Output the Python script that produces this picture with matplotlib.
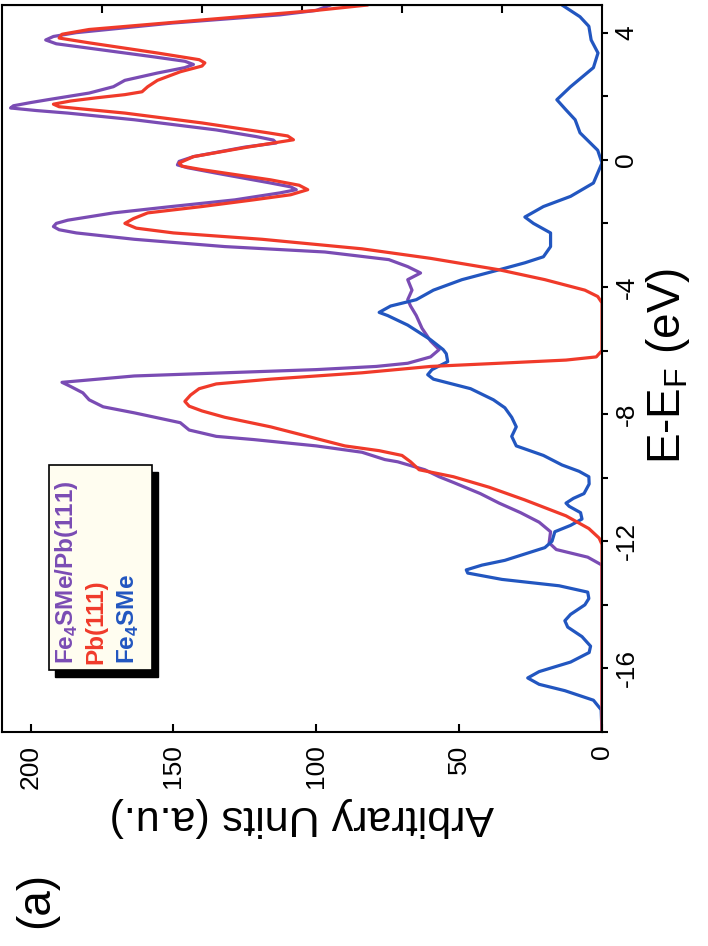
import matplotlib
matplotlib.use("Agg")
import matplotlib.pyplot as plt
from matplotlib.patches import Rectangle

plt.rcParams['font.family'] = ['Liberation Sans', 'DejaVu Sans']
plt.rcParams['mathtext.fontset'] = 'custom'
plt.rcParams['mathtext.rm'] = 'Liberation Sans'
plt.rcParams['mathtext.bf'] = 'Liberation Sans:bold'
plt.rcParams['axes.unicode_minus'] = False

# === Data (energy in eV, DOS in arbitrary units) ===
blue_e = [-18.0, -17.3, -17.0, -16.7, -16.5, -16.3, -16.1, -15.8, -15.5, -15.3, -15.0, -14.7,
          -14.5, -14.3, -14.0, -13.8, -13.6, -13.4, -13.2, -13.0, -12.9, -12.75, -12.6, -12.4,
          -12.2, -12.0, -11.7, -11.5, -11.3, -11.1, -10.9, -10.8, -10.65, -10.5, -10.2, -9.97,
          -9.8, -9.6, -9.3, -9.0, -8.7, -8.4, -8.1, -7.8, -7.55, -7.2, -6.9, -6.76, -6.6, -6.35,
          -6.1, -5.97, -5.66, -5.2, -4.9, -4.8, -4.6, -4.4, -4.1, -3.77, -3.46, -3.24, -3.05,
          -2.73, -2.3, -2.0, -1.8, -1.47, -1.15, -0.73, -0.1, 0.3, 0.85, 1.26, 1.57, 1.89, 2.3,
          2.9, 3.36, 3.77, 4.2, 4.5, 4.87]
blue_v = [0, 0.3, 3, 13, 22, 26, 22, 11, 4.5, 4, 7, 12,
          13, 11, 6, 4.6, 5, 15, 35, 47, 47.5, 42, 34, 27,
          20, 17.5, 16.5, 11, 7, 7.5, 11.5, 12.6, 10, 6.3, 4.5, 4.6,
          8, 14, 20.5, 30, 31.6, 30, 31.6, 34, 38, 46, 59, 61, 59.5, 54,
          54.5, 55.6, 60, 68, 75, 78, 74, 65, 59, 49, 36, 27, 20.5,
          18, 18, 24, 27, 20.5, 11, 3, 0, 1.5, 7.7, 9.4, 12.6, 15.8, 11,
          3, 1.4, 3.8, 4.6, 7.7, 14]

red_e = [-18.0, -12.1, -11.9, -11.6, -11.2, -10.7, -10.3, -9.97, -9.75, -9.5, -9.3, -9.15,
         -9.0, -8.7, -8.4, -8.1, -7.9, -7.75, -7.6, -7.4, -7.2, -7.05, -6.9, -6.7, -6.5,
         -6.4, -6.3, -6.2, -6.0, -4.5, -4.3, -4.1, -3.77, -3.46, -3.1, -2.8, -2.5, -2.3,
         -2.15, -2.0, -1.85, -1.67, -1.47, -1.26, -1.1, -0.94, -0.8, -0.63, -0.31, -0.2,
         -0.1, 0.1, 0.4, 0.63, 0.75, 0.85, 1.16, 1.47, 1.67, 1.75, 1.85, 1.95, 2.05, 2.14,
         2.3, 2.5, 2.77, 2.95, 3.05, 3.15, 3.36, 3.68, 3.83, 3.95, 4.1, 4.4, 4.7, 4.87]
red_v = [0, 0, 1, 4.6, 12.6, 27, 39.5, 52, 64, 67, 70, 78,
         90, 103, 116, 132, 140, 144.5, 146, 144, 141, 135, 116, 84, 60,
         36, 12.6, 2, 0, 0, 1.5, 6, 20, 36, 60, 84, 119, 150,
         163, 167, 164, 159, 140, 122, 109, 103, 106, 116, 140, 147,
         148, 143, 124, 108, 110, 117, 140, 167, 190, 192, 186, 177, 167, 161,
         159, 155.6, 147.6, 140, 139, 141, 155.6, 179.5, 190, 189, 179.5, 140, 100, 82]

purple_e = [-18.0, -12.75, -12.5, -12.26, -12.05, -11.7, -11.4, -11.1, -10.8, -10.5, -10.15,
            -9.97, -9.75, -9.5, -9.43, -9.2, -9.0, -8.8, -8.7, -8.5, -8.27, -7.96, -7.77,
            -7.55, -7.33, -7.13, -7.0, -6.8, -6.7, -6.6, -6.5, -6.4, -6.2, -5.97, -5.7, -5.3,
            -4.9, -4.6, -4.4, -4.1, -3.77, -3.56, -3.36, -3.14, -2.9, -2.73, -2.5, -2.3, -2.2,
            -2.1, -2.0, -1.9, -1.67, -1.47, -1.26, -1.04, -0.94, -0.85, -0.73, -0.42, -0.25,
            -0.16, -0.05, 0.1, 0.4, 0.53, 0.62, 0.73, 0.94, 1.26, 1.47, 1.55, 1.63, 1.7, 1.8,
            1.89, 2.1, 2.3, 2.5, 2.73, 2.9, 3.0, 3.1, 3.24, 3.55, 3.65, 3.77, 3.88, 4.0, 4.3,
            4.56, 4.7, 4.87]
purple_v = [0, 0, 5, 16, 18.5, 18, 22, 28.5, 36, 42.6, 52,
            57, 62, 71.5, 76, 84, 100, 122, 135, 144.5, 147.6, 163.7, 174.6,
            179.5, 181.7, 186, 189, 163.7, 132, 100, 79, 68, 60, 57, 60, 63,
            65, 67, 68, 66.5, 68, 63.5, 68, 74.6, 97, 132, 163.7, 184, 190,
            192, 191, 187, 171, 150.7, 128.5, 112.7, 107, 109, 116, 135, 145,
            148.6, 148, 143, 125, 114, 115, 121, 135, 163.7, 187, 198, 207, 206, 200,
            194, 179.5, 171, 167, 155.6, 146, 143, 146, 157, 182.7, 191, 194.7, 192, 184, 150.7,
            112.7, 100, 95]

labels = [r'Fe$_\mathbf{4}$SMe/Pb(111)', 'Pb(111)', r'Fe$_\mathbf{4}$SMe']
colors = ['#7a4cb4', '#f03a2a', '#2256c0']

value_ticks = [0, 50, 100, 150, 200]
energy_ticks = [-16, -12, -8, -4, 0, 4]

# === Plot (rotated layout: energy vertical, intensity horizontal) ===
W, H = 708, 946
fig = plt.figure(figsize=(W / 100, H / 100), dpi=100)
ax = fig.add_axes([2 / W, 1 - 732 / H, 600 / W, 727 / H])

line_kw = dict(lw=2.3, solid_joinstyle='round', solid_capstyle='round')
ax.plot(purple_v, purple_e, color=colors[0], **line_kw)
ax.plot(blue_v, blue_e, color=colors[2], **line_kw)
ax.plot(red_v, red_e, color=colors[1], **line_kw)

ax.set_xlim(210, 0)
ax.set_ylim(-18, 4.87)

for s in ax.spines.values():
    s.set_linewidth(1.5)

ax.set_xticks(value_ticks)
ax.set_xticklabels([str(v) for v in value_ticks])
ax.tick_params(axis='x', direction='in', length=6, width=1.5, labelsize=19,
               labelrotation=90, pad=9, bottom=True, top=False)

top = ax.secondary_xaxis('top')
top.set_xticks([35, 70, 105, 140, 175])
top.set_xticklabels([])
top.tick_params(direction='in', length=6, width=1.5)

ax.yaxis.tick_right()
ax.set_yticks(energy_ticks)
ax.set_yticks([-18, -14, -10, -6, -2, 2], minor=True)
ax.set_yticklabels([str(v) for v in energy_ticks], rotation=90, va='center')
ax.tick_params(axis='y', which='both', direction='out', length=4, width=1.5,
               labelsize=19, pad=5, left=False, right=True)

fig.text(302 / W, 1 - 817 / H, 'Arbitrary Units (a.u.)', rotation=180,
         ha='center', va='center', fontsize=31)
fig.text(668 / W, 1 - 366 / H, r'E-E$_\mathrm{F}$ (eV)', rotation=90,
         ha='center', va='center', fontsize=33)
fig.text(36 / W, 1 - 900 / H, '(a)', rotation=90, ha='center', va='center', fontsize=33)

# legend box with shadow
fig.patches.append(Rectangle((55 / W, 1 - 677 / H), 103 / W, 205 / H,
                             transform=fig.transFigure, facecolor='black',
                             edgecolor='black', zorder=5))
fig.patches.append(Rectangle((49 / W, 1 - 670 / H), 103 / W, 205 / H,
                             transform=fig.transFigure, facecolor='#fffdf0',
                             edgecolor='black', lw=1.2, zorder=6))
for x, lab, c in zip([66, 96, 128], labels, colors):
    fig.text(x / W, 1 - 664 / H, lab, rotation=90, ha='center', va='bottom',
             fontsize=17.5, fontweight='bold', color=c, zorder=7)

fig.savefig('out.png', dpi=100)
